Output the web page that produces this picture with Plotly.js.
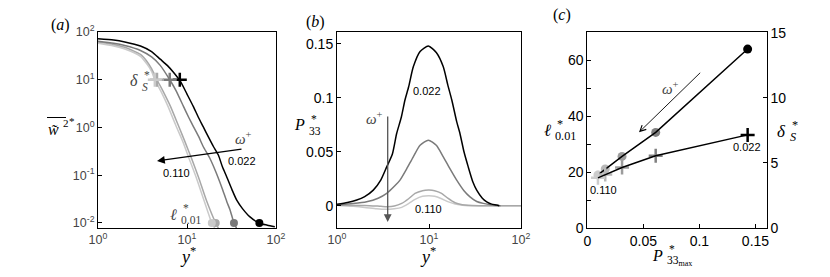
<!DOCTYPE html>
<html><head><meta charset="utf-8">
<script src="https://cdn.plot.ly/plotly-3.0.1.min.js"></script>
<style>html,body{margin:0;padding:0;background:#fff}</style>
</head><body><div id="chart" style="width:830px;height:277px"></div>
<script>
// ---------- Panel (a): w~^2* vs y* (log-log) ----------
const aY1 = [1,1.5,2,3,4,5,6,7,8.5,10,11.8,13.5,15.2,17.5,19.8,22.5,25,27.9,32,36.2,42,51,65,80,97];
const aW1 = [72,68,62,51,39,27,20,14.5,9,5,2.73,1.6,1.04,0.62,0.4,0.265,0.15,0.093,0.05,0.03,0.02,0.0134,0.0099,0.009,0.0083];
const aY2 = [1,1.5,2,3,4,5,6.4,7.5,9.1,10.5,11.8,13.5,15.2,18,21,24.5,28,30.4,33.7,36];
const aW2 = [64,58,52,41,30,20,10,6,2.8,1.6,1.04,0.65,0.40,0.23,0.12,0.057,0.028,0.019,0.01,0.0078];
const aY3 = [1,1.5,2,3,3.5,4,4.6,5.5,6.5,8,9.5,11.3,13.5,16.5,21,22.5];
const aW3 = [62,55,48,34,25,17,10,5.3,2.8,1.1,0.5,0.22,0.09,0.03,0.01,0.0078];
const aY4 = [1,1.5,2,3,3.5,4,4.35,5.2,6.1,7.5,9,10.6,12.7,15.5,19,20.5];
const aW4 = [58,51,44,31,22,15,10,5.3,2.8,1.1,0.5,0.22,0.09,0.03,0.01,0.0078];
const aDeltaS = [8.3, 6.4, 4.6, 4.35];   // y* of delta_S markers
const aDeltaW = [10, 10, 10, 10];
const aEll = [65, 33.7, 21, 19];          // y* of l_0.01 markers
const aEllW = [0.01, 0.01, 0.01, 0.01];
const aColors = ['#000000', '#7a7a7a', '#a8a8a8', '#cacaca'];
const aXTickVals = [1, 10, 100];
const aXTickText = ['10<sup>0</sup>', '10<sup>1</sup>', '10<sup>2</sup>'];
const aYTickVals = [0.01, 0.1, 1, 10, 100];
const aYTickText = ['10<sup>-2</sup>', '10<sup>-1</sup>', '10<sup>0</sup>', '10<sup>1</sup>', '10<sup>2</sup>'];

// ---------- Panel (b): P33* vs y* ----------
const bY1 = [1,1.3,1.64,2,2.48,3,3.47,4,4.45,5,5.48,6,6.75,8,9.84,12,14.3,16,17.7,20,21.7,24,26.7,30,33,38,42.4,48,54.4,58];
const bP1 = [0.0013,0.003,0.0053,0.0085,0.0145,0.024,0.036,0.048,0.067,0.082,0.098,0.11,0.1287,0.143,0.148,0.142,0.1287,0.112,0.098,0.078,0.067,0.05,0.036,0.022,0.0145,0.007,0.0037,0.0015,0.0007,0];
const bY2 = [1,1.5,2.1,2.8,3.47,4.2,4.84,5.7,6.75,8,9.84,12,14.3,17,20,24,27.9,33,38.9,48,60];
const bP2 = [0.0007,0.002,0.0037,0.007,0.0115,0.018,0.0238,0.034,0.0454,0.056,0.0608,0.056,0.0454,0.034,0.0238,0.014,0.0083,0.004,0.0022,0.0008,0];
const bY3 = [1,2,3,3.5,4.2,5.05,6,7.05,8.5,10,11.5,13.7,16,19.2,23,26.7,35,50,70,100];
const bP3 = [0.0005,0.0003,-0.0005,-0.0008,-0.0002,0.0022,0.0065,0.0115,0.014,0.0145,0.014,0.0115,0.007,0.0028,0.001,0.0004,0.0001,0,0,0];
const bY4 = [1,1.5,2,2.7,3.33,4.2,5.05,6,7.05,8.5,10,11.5,13.7,16,19.2,23,26.7,35,50,70,100];
const bP4 = [0.0005,-0.0005,-0.0015,-0.0028,-0.0033,-0.0028,-0.0015,0.002,0.0059,0.0088,0.0093,0.0088,0.0065,0.0038,0.0016,0.0005,0,0,0,0,0];
const bYTickVals = [0, 0.05, 0.1, 0.15];
const bYTickText = ['0', '0.05', '0.1', '0.15'];

// ---------- Panel (c): l_0.01* and delta_S* vs P33max* ----------
const cP = [0.143, 0.061, 0.031, 0.016, 0.0095];
const cEll = [64, 34.2, 25.6, 21.1, 19.0];
const cDelta = [7.15, 5.55, 4.65, 4.1, 3.85];
const cColors = ['#000000', '#808080', '#9c9c9c', '#b8b8b8', '#cccccc'];
const cXTickVals = [0, 0.05, 0.1, 0.15];
const cXTickText = ['0', '0.05', '0.1', '0.15'];
const cYTickVals = [0, 10, 20, 30, 40, 50, 60];
const cYTickText = ['0', '', '20', '', '40', '', '60'];
const cY2TickVals = [0, 5, 10, 15];
const cY2TickText = ['0', '5', '10', '15'];

const SANS = 'Liberation Sans, Arial, sans-serif';
const SERIF = 'Liberation Serif, DejaVu Serif, serif';
const W = 830, H = 277;
const px = v => v / W, py = v => 1 - v / H;

const traces = [];
const aYs = [aY1, aY2, aY3, aY4], aWs = [aW1, aW2, aW3, aW4];
for (let i = 3; i >= 0; i--) {
  traces.push({x: aYs[i], y: aWs[i], xaxis: 'x', yaxis: 'y', mode: 'lines',
    line: {color: aColors[i], width: 1.5, shape: 'spline', smoothing: 0.6}, hoverinfo: 'skip'});
}
traces.push({x: aDeltaS, y: aDeltaW, xaxis: 'x', yaxis: 'y', mode: 'markers',
  marker: {symbol: 'cross-thin', size: 10, color: aColors, line: {color: aColors, width: 2.5}}});
traces.push({x: aEll, y: aEllW, xaxis: 'x', yaxis: 'y', mode: 'markers',
  marker: {symbol: 'circle', size: 8, color: aColors}});

const bYs = [bY1, bY2, bY3, bY4], bPs = [bP1, bP2, bP3, bP4];
for (let i = 3; i >= 0; i--) {
  traces.push({x: bYs[i], y: bPs[i], xaxis: 'x2', yaxis: 'y2', mode: 'lines',
    line: {color: aColors[i], width: 1.5, shape: 'spline', smoothing: 0.6}, hoverinfo: 'skip'});
}

traces.push({x: cP, y: cEll, xaxis: 'x3', yaxis: 'y3', mode: 'markers',
  marker: {symbol: 'circle', size: 9, color: cColors}});
traces.push({x: cP, y: cDelta, xaxis: 'x3', yaxis: 'y4', mode: 'markers',
  marker: {symbol: 'cross-thin', size: 10, color: cColors, line: {color: cColors, width: 2.5}}});
traces.push({x: cP, y: cEll, xaxis: 'x3', yaxis: 'y3', mode: 'lines',
  line: {color: '#000', width: 1.5}});
traces.push({x: cP, y: cDelta, xaxis: 'x3', yaxis: 'y4', mode: 'lines',
  line: {color: '#000', width: 1.5}});

const axBase = {showgrid: false, zeroline: false, showline: true, linecolor: '#000', linewidth: 1,
  ticks: 'inside', ticklen: 4, tickcolor: '#000', mirror: true,
  tickfont: {family: SANS, size: 14, color: '#000'}};
const yDom = [49 / H, 245 / H];

const ann = [];
function T(text, x, y, size, color, xanchor) {
  ann.push({text: text, x: px(x), y: py(y), xref: 'paper', yref: 'paper',
    xanchor: xanchor || 'center', yanchor: 'middle',
    showarrow: false, font: {family: SERIF, size: size, color: color || '#000'}});
}
function S(text, x, y) {
  ann.push({text: text, x: px(x), y: py(y), xref: 'paper', yref: 'paper',
    xanchor: 'center', yanchor: 'middle', showarrow: false,
    font: {family: SANS, size: 11, color: '#000'}});
}
// stacked super/subscript: base ends at xr, centred at y
function ST(base, sup, sub, xr, y, size, color) {
  T(base, xr, y, size, color, 'right');
  T(sup, xr + 1.5, y - size * 0.38, size * 0.72, color, 'left');
  T(sub, xr - 0.5, y + size * 0.36, size * 0.72, color, 'left');
}
function A(x0, y0, x1, y1, color, width, head, hs) {
  ann.push({x: px(x1), y: py(y1), ax: px(x0), ay: py(y0), xref: 'paper', yref: 'paper',
    axref: 'paper', ayref: 'paper', text: '', showarrow: true, arrowhead: head,
    arrowsize: hs, arrowwidth: width, arrowcolor: color});
}
// panel labels
T('(<i>a</i>)', 60, 25, 16);
T('(<i>b</i>)', 315, 22, 16);
T('(<i>c</i>)', 562, 15, 16);
// panel (a)
T('<i>w̃</i>', 53, 129, 16, '#000');
T('2', 60.5, 122.5, 11, '#000', 'left');
T('*', 67, 121, 11, '#000', 'left');
T('<i>y</i><sup>*</sup>', 188, 255, 18);
ST('<i>δ</i>', '*', '<i>S</i>', 140, 81, 16, '#444');
ST('<i>ℓ</i>', '*', '0.01', 179, 214, 16, '#444');
T('<i>ω</i><sup>+</sup>', 243, 138, 15, '#444');
S('0.022', 242, 161);
S('0.110', 176, 173);
A(243, 149, 157, 161, '#000', 1.3, 2, 1.2);
// panel (b)
ST('<i>P</i>', '*', '33', 307, 125, 16, '#000');
T('<i>y</i><sup>*</sup>', 428, 255, 18);
T('<i>ω</i><sup>+</sup>', 374, 118, 15, '#444');
S('0.022', 427, 91);
S('0.110', 428, 209);
A(387.7, 115, 387.7, 222, '#555', 1.3, 2, 1.2);
// panel (c)
ST('<i>ℓ</i>', '*', '0.01', 553, 130, 17, '#000');
ST('<i>δ</i>', '*', '<i>S</i>', 788, 131, 17, '#000');
ST('<i>P</i>', '*', '33<sub>max</sub>', 665, 255, 16, '#000');
T('<i>ω</i><sup>+</sup>', 670, 88, 15, '#444');
S('0.022', 747, 147);
S('0.110', 603, 190);
A(701.7, 71.3, 639, 132.3, '#000', 0.9, 5, 1.3);

const layout = {
  width: W, height: H, margin: {l: 0, r: 0, t: 0, b: 0},
  paper_bgcolor: '#fff', plot_bgcolor: '#fff', showlegend: false,
  xaxis: Object.assign({}, axBase, {type: 'log', range: [0, 2], domain: [98 / W, 276 / W], anchor: 'y',
    tickvals: aXTickVals, ticktext: aXTickText, tickfont: {family: SANS, size: 12.5}}),
  yaxis: Object.assign({}, axBase, {type: 'log', range: [-2.105, 2], domain: yDom, anchor: 'x',
    tickvals: aYTickVals, ticktext: aYTickText, tickfont: {family: SANS, size: 12.5}}),
  xaxis2: Object.assign({}, axBase, {type: 'log', range: [0, 2], domain: [337 / W, 521 / W], anchor: 'y2',
    tickvals: aXTickVals, ticktext: aXTickText, tickfont: {family: SANS, size: 12.5}}),
  yaxis2: Object.assign({}, axBase, {range: [-0.0206, 0.161], domain: yDom, anchor: 'x2',
    tickvals: bYTickVals, ticktext: bYTickText}),
  xaxis3: Object.assign({}, axBase, {range: [0, 0.160], domain: [587.3 / W, 766.7 / W], anchor: 'y3',
    tickvals: cXTickVals, ticktext: cXTickText}),
  yaxis3: Object.assign({}, axBase, {range: [0, 70.1], domain: yDom, anchor: 'x3', mirror: false,
    tickvals: cYTickVals, ticktext: cYTickText}),
  yaxis4: Object.assign({}, axBase, {range: [0, 15.05], domain: yDom, anchor: 'x3', overlaying: 'y3',
    side: 'right', mirror: false, tickvals: cY2TickVals, ticktext: cY2TickText}),
  annotations: ann,
  shapes: [
    // overline (mean) over w~^2 in panel (a) y-title
    {type: 'line', xref: 'paper', yref: 'paper', x0: px(47), x1: px(66), y0: py(117.5), y1: py(117.5),
     line: {color: '#000', width: 1}}
  ]
};
Plotly.newPlot('chart', traces, layout, {staticPlot: true});
</script></body></html>
